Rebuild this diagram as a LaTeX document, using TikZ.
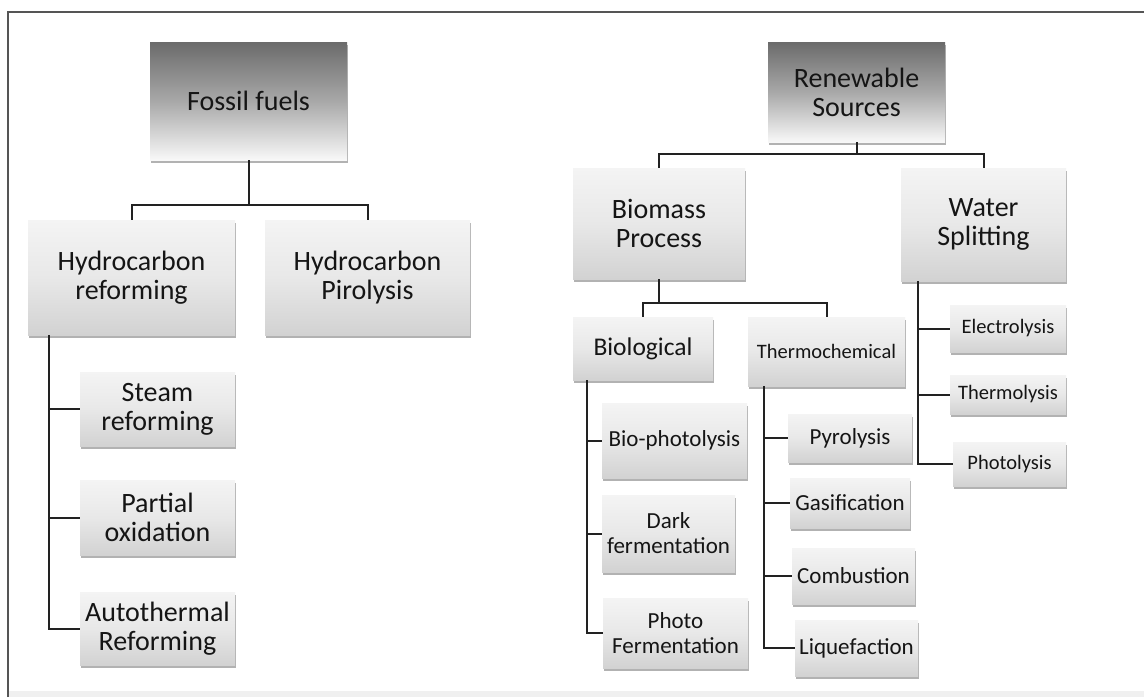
\documentclass[tikz,border=0pt]{standalone}
\usepackage{fontspec}
\setmainfont{Carlito}
\usetikzlibrary{shadows}
\definecolor{boxdark}{HTML}{6B6B6B}
\definecolor{boxmid}{HTML}{A8A8A8}
\definecolor{boxwhite}{HTML}{F8F8F8}
\definecolor{lighttop}{HTML}{F4F4F4}
\definecolor{lightmid}{HTML}{E8E8E8}
\definecolor{lightbot}{HTML}{D2D2D2}
\definecolor{linecol}{HTML}{222222}
\definecolor{txtcol}{HTML}{151515}
\definecolor{framecol}{HTML}{555555}
\newcommand\fa{\fontsize{28}{29}\selectfont}
\newcommand\fb{\fontsize{25.5}{27}\selectfont}
\newcommand\fc{\fontsize{23}{25}\selectfont}
\newcommand\fd{\fontsize{20.5}{23}\selectfont}
\newcommand\placebox[7]{%
  \node[#1, minimum width={(#5)-(#3)}, minimum height={(#6)-(#4)}] (#2)
    at ({((#3)+(#5))/2},{((#4)+(#6))/2}) {#7};}
\tikzset{
  boxbase/.style={rectangle, inner sep=0pt, align=center, text=txtcol,
    drop shadow={shadow xshift=1pt, shadow yshift=-3pt, fill=black, opacity=0.3}},
  darkbox/.style={boxbase, top color=boxdark, bottom color=boxwhite, middle color=boxmid, font=\fa},
  lightbox/.style={boxbase, top color=lighttop, bottom color=lightbot, middle color=lightmid, font=\fa},
  conn/.style={line width=2pt, draw=linecol},
}
\begin{document}
\begin{tikzpicture}[x=1pt,y=-1pt]
\useasboundingbox (0,0) rectangle (1144,697);
\fill[white] (0,0) rectangle (1144,697);
\fill[gray!12] (8,691) rectangle (1144,697);
\draw[framecol, line width=1.3pt] (8,697) -- (8,12) -- (1144,12);

% Fossil fuels tree
\placebox{darkbox}{ff}{150}{42}{347}{160}{Fossil fuels}
\placebox{lightbox}{hr}{28}{220}{235}{335}{Hydrocarbon\\ reforming}
\placebox{lightbox}{hp}{265}{220}{470}{335}{Hydrocarbon\\ Pirolysis}
\placebox{lightbox}{sr}{80}{372}{235}{446}{Steam\\ reforming}
\placebox{lightbox}{po}{80}{480}{235}{555}{Partial\\ oxidation}
\placebox{lightbox}{ar}{80}{592}{235}{665}{Autothermal\\ Reforming}

% Renewable tree
\placebox{darkbox}{rs}{768}{42}{945}{142}{Renewable\\ Sources}
\placebox{lightbox}{bp}{573}{168}{745}{279}{Biomass\\ Process}
\placebox{lightbox}{ws}{901}{168}{1066}{281}{Water\\ Splitting}
\placebox{lightbox,font=\fb}{bl}{573}{317}{713}{380}{Biological}
\placebox{lightbox,font=\fd}{tc}{748}{317}{905}{386}{Thermochemical}

\placebox{lightbox,font=\fc}{bph}{602}{403}{747}{478}{Bio-photolysis}
\placebox{lightbox,font=\fc}{df}{602}{495}{735}{572}{Dark\\ fermentation}
\placebox{lightbox,font=\fc}{pf}{603}{598}{748}{668}{Photo\\ Fermentation}

\placebox{lightbox,font=\fc}{py}{788}{414}{912}{462}{Pyrolysis}
\placebox{lightbox,font=\fc}{ga}{790}{478}{910}{528}{Gasification}
\placebox{lightbox,font=\fc}{cb}{792}{548}{915}{604}{Combustion}
\placebox{lightbox,font=\fc}{lq}{795}{620}{918}{676}{Liquefaction}

\placebox{lightbox,font=\fd}{el}{950}{305}{1066}{352}{Electrolysis}
\placebox{lightbox,font=\fd}{th}{950}{375}{1066}{414}{Thermolysis}
\placebox{lightbox,font=\fd}{ph}{953}{442}{1066}{486}{Photolysis}

% connectors
\draw[conn] (ff.south) -- ++(0,45) coordinate (j1) -| (hr.north);
\draw[conn] (j1) -| (hp.north);
\draw[conn] ([xshift=21pt]hr.south west) |- (sr.west);
\draw[conn] ([xshift=21pt]hr.south west) |- (po.west);
\draw[conn] ([xshift=21pt]hr.south west) |- (ar.west);

\draw[conn] (rs.south) -- ++(0,12) coordinate (j2) -| (bp.north);
\draw[conn] (j2) -| (ws.north);
\draw[conn] (bp.south) -- ++(0,24) coordinate (j3) -| (bl.north);
\draw[conn] (j3) -| (tc.north);

\draw[conn] ([xshift=14pt]bl.south west) |- (bph.west);
\draw[conn] ([xshift=14pt]bl.south west) |- (df.west);
\draw[conn] ([xshift=14pt]bl.south west) |- (pf.west);

\draw[conn] ([xshift=16pt]tc.south west) |- (py.west);
\draw[conn] ([xshift=16pt]tc.south west) |- (ga.west);
\draw[conn] ([xshift=16pt]tc.south west) |- (cb.west);
\draw[conn] ([xshift=16pt]tc.south west) |- (lq.west);

\draw[conn] ([xshift=17pt]ws.south west) |- (el.west);
\draw[conn] ([xshift=17pt]ws.south west) |- (th.west);
\draw[conn] ([xshift=17pt]ws.south west) |- (ph.west);
\end{tikzpicture}
\end{document}
